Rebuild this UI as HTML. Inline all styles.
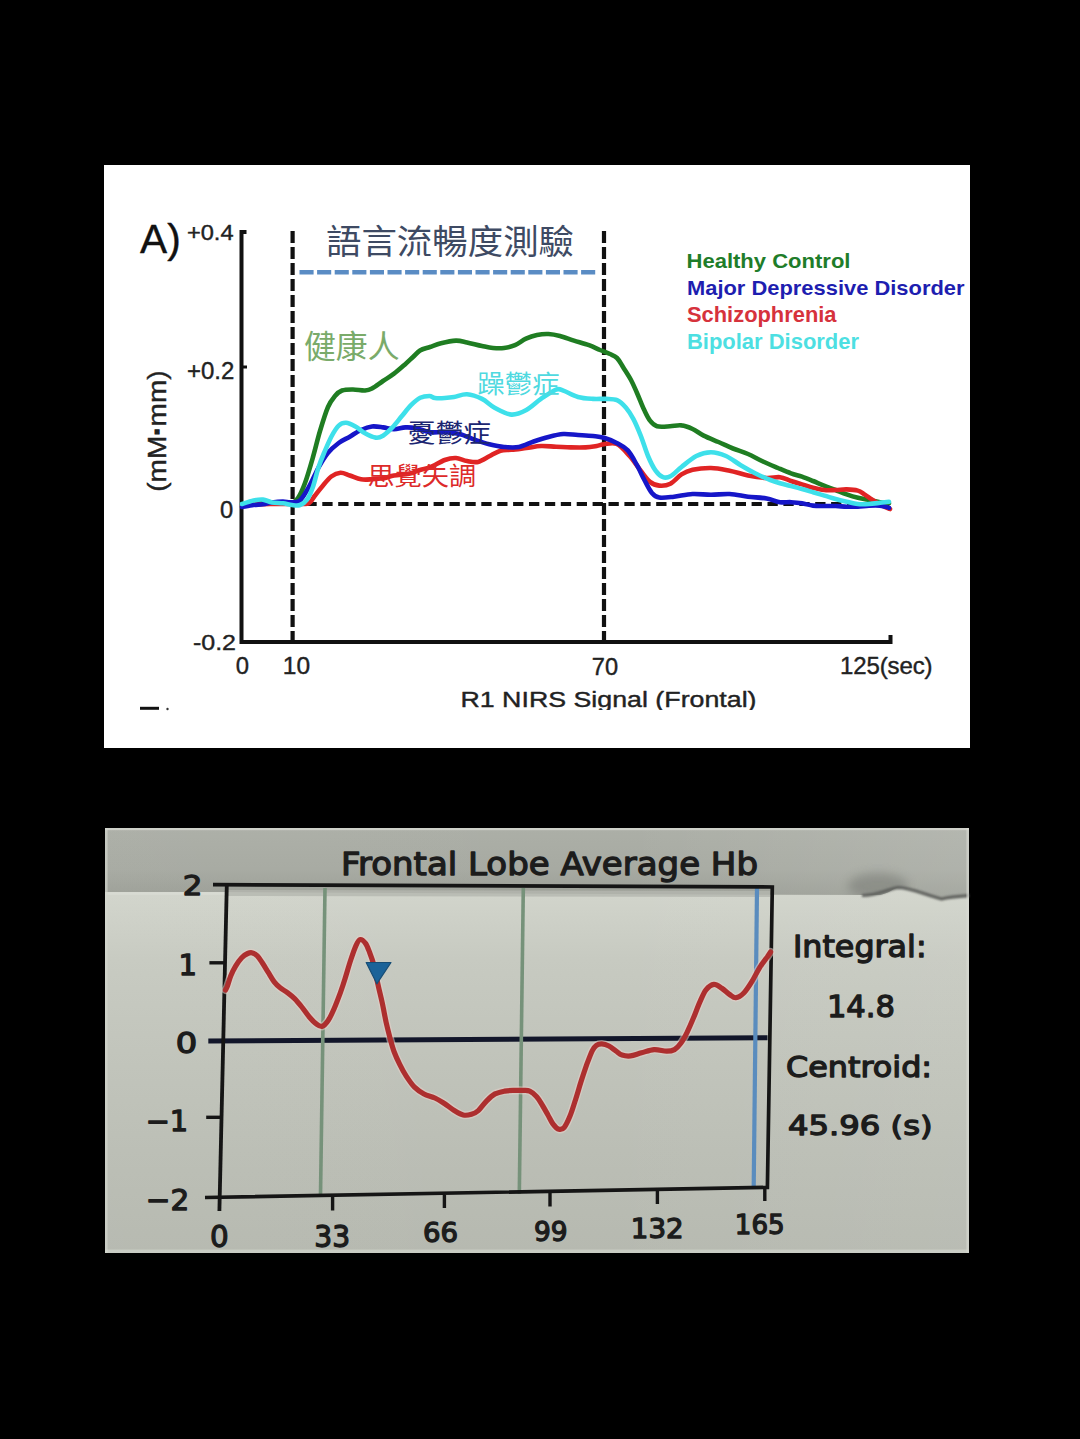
<!DOCTYPE html>
<html><head><meta charset="utf-8"><style>
html,body{margin:0;padding:0;background:#000;}
body{width:1080px;height:1439px;overflow:hidden;}
svg{display:block;}
</style></head><body>
<svg width="1080" height="1439" viewBox="0 0 1080 1439">
<rect width="1080" height="1439" fill="#000"/>

<rect x="104" y="165" width="866" height="583" fill="#fff"/>
<text x="140.00" y="252.96" font-family="&quot;Liberation Sans&quot;, Arial, sans-serif" font-weight="400" font-size="40.21" fill="#111" stroke="#111" stroke-width="0.4" stroke-linejoin="round" textLength="40.69" lengthAdjust="spacingAndGlyphs">A)</text>
<text x="186.98" y="240.00" font-family="&quot;Liberation Sans&quot;, Arial, sans-serif" font-weight="400" font-size="21.76" fill="#222" stroke="#222" stroke-width="0.4" stroke-linejoin="round" textLength="46.57" lengthAdjust="spacingAndGlyphs">+0.4</text>
<text x="186.97" y="379.04" font-family="&quot;Liberation Sans&quot;, Arial, sans-serif" font-weight="400" font-size="23.73" fill="#222" stroke="#222" stroke-width="0.4" stroke-linejoin="round" textLength="47.34" lengthAdjust="spacingAndGlyphs">+0.2</text>
<text x="219.93" y="518.00" font-family="&quot;Liberation Sans&quot;, Arial, sans-serif" font-weight="400" font-size="23.12" fill="#222" stroke="#222" stroke-width="0.4" stroke-linejoin="round" textLength="13.18" lengthAdjust="spacingAndGlyphs">0</text>
<text x="192.95" y="650.00" font-family="&quot;Liberation Sans&quot;, Arial, sans-serif" font-weight="400" font-size="22.88" fill="#222" stroke="#222" stroke-width="0.4" stroke-linejoin="round" textLength="43.10" lengthAdjust="spacingAndGlyphs">-0.2</text>
<text x="235.84" y="674.00" font-family="&quot;Liberation Sans&quot;, Arial, sans-serif" font-weight="400" font-size="24.69" fill="#222" stroke="#222" stroke-width="0.4" stroke-linejoin="round" textLength="13.27" lengthAdjust="spacingAndGlyphs">0</text>
<text x="282.85" y="674.00" font-family="&quot;Liberation Sans&quot;, Arial, sans-serif" font-weight="400" font-size="24.69" fill="#222" stroke="#222" stroke-width="0.4" stroke-linejoin="round" textLength="27.27" lengthAdjust="spacingAndGlyphs">10</text>
<text x="591.81" y="674.50" font-family="&quot;Liberation Sans&quot;, Arial, sans-serif" font-weight="400" font-size="24.39" fill="#222" stroke="#222" stroke-width="0.4" stroke-linejoin="round" textLength="26.29" lengthAdjust="spacingAndGlyphs">70</text>
<text x="839.93" y="674.00" font-family="&quot;Liberation Sans&quot;, Arial, sans-serif" font-weight="400" font-size="24.00" fill="#222" stroke="#222" stroke-width="0.4" stroke-linejoin="round" textLength="92.63" lengthAdjust="spacing">125(sec)</text>
<clipPath id="cb"><rect x="104" y="680" width="866" height="30"/></clipPath>
<text clip-path="url(#cb)" x="460.46" y="706.70" font-family="&quot;Liberation Sans&quot;, Arial, sans-serif" font-weight="400" font-size="22.50" fill="#222" stroke="#222" stroke-width="0.4" stroke-linejoin="round" textLength="296.07" lengthAdjust="spacingAndGlyphs">R1 NIRS Signal (Frontal)</text>
<text transform="translate(165.8,491.8) rotate(-90)" x="0" y="0" font-family="&quot;Liberation Sans&quot;, Arial, sans-serif" font-size="26" fill="#222" textLength="121.5" lengthAdjust="spacingAndGlyphs" stroke="#222" stroke-width="0.4">(mM<tspan font-weight="bold" stroke-width="1.2">·</tspan>mm)</text>
<line x1="140" y1="708.3" x2="159" y2="708.3" stroke="#111" stroke-width="3"/>
<circle cx="167.5" cy="709" r="1.2" fill="#333"/>
<path d="M246.5,232 L241.5,232 L241.5,642 L890.5,642 L890.5,635" fill="none" stroke="#111" stroke-width="4"/>
<line x1="241" y1="367" x2="247" y2="367" stroke="#111" stroke-width="3"/>
<line x1="292.6" y1="231" x2="292.6" y2="642" stroke="#111" stroke-width="4.2" stroke-dasharray="12 4" stroke-dashoffset="0"/>
<line x1="604" y1="231" x2="604" y2="642" stroke="#111" stroke-width="4.2" stroke-dasharray="12 4" stroke-dashoffset="0"/>
<line x1="306.4" y1="504" x2="890" y2="504" stroke="#111" stroke-width="4.2" stroke-dasharray="10.3 5.6" stroke-dashoffset="0"/>
<line x1="299.5" y1="272.3" x2="597" y2="272.3" stroke="#5a8cc4" stroke-width="4.4" stroke-dasharray="14.1 3.5" stroke-dashoffset="0"/>
<text x="325.98" y="254.03" font-family="&quot;Liberation Sans&quot;, &quot;Noto Sans CJK TC&quot;, sans-serif" font-weight="400" font-size="33.91" fill="#3e4a63" textLength="248.05" lengthAdjust="spacingAndGlyphs">語言流暢度測驗</text>
<text x="686.47" y="267.59" font-family="&quot;Liberation Sans&quot;, Arial, sans-serif" font-weight="700" font-size="20.35" fill="#1f7d2a" textLength="164.04" lengthAdjust="spacingAndGlyphs">Healthy Control</text>
<text x="686.99" y="294.57" font-family="&quot;Liberation Sans&quot;, Arial, sans-serif" font-weight="700" font-size="20.97" fill="#1e1eb0" textLength="277.51" lengthAdjust="spacingAndGlyphs">Major Depressive Disorder</text>
<text x="687.00" y="321.95" font-family="&quot;Liberation Sans&quot;, Arial, sans-serif" font-weight="700" font-size="21.83" fill="#d6323c" textLength="149.51" lengthAdjust="spacingAndGlyphs">Schizophrenia</text>
<text x="686.99" y="348.52" font-family="&quot;Liberation Sans&quot;, Arial, sans-serif" font-weight="700" font-size="21.17" fill="#4ddfe2" textLength="172.02" lengthAdjust="spacingAndGlyphs">Bipolar Disorder</text>
<g fill="none" stroke-width="4.6" stroke-linejoin="round" stroke-linecap="round">
<path d="M242.0,504.0 C245.0,503.8 253.7,502.7 260.0,502.5 C266.3,502.3 274.7,502.9 280.0,503.0 C285.3,503.1 289.0,503.8 292.0,503.0 C295.0,502.2 295.8,501.3 298.0,498.0 C300.2,494.7 302.5,489.8 305.0,483.0 C307.5,476.2 310.5,465.7 313.0,457.0 C315.5,448.3 317.5,439.3 320.0,431.0 C322.5,422.7 325.5,412.8 328.0,407.0 C330.5,401.2 332.7,398.8 335.0,396.0 C337.3,393.2 339.0,391.6 342.0,390.5 C345.0,389.4 349.2,389.5 353.0,389.5 C356.8,389.5 361.8,390.7 365.0,390.5 C368.2,390.3 369.0,390.1 372.0,388.5 C375.0,386.9 379.3,383.5 383.0,381.0 C386.7,378.5 390.3,376.5 394.0,373.7 C397.7,370.9 401.8,367.2 405.0,364.4 C408.2,361.6 410.5,359.3 413.0,357.0 C415.5,354.7 417.2,352.2 420.0,350.5 C422.8,348.8 426.5,348.2 430.0,347.0 C433.5,345.8 436.7,344.4 441.0,343.3 C445.3,342.2 451.7,340.8 456.0,340.6 C460.3,340.5 462.7,341.5 467.0,342.4 C471.3,343.3 477.7,345.1 482.0,346.0 C486.3,346.9 489.3,347.7 493.0,348.0 C496.7,348.3 500.3,348.5 504.0,348.0 C507.7,347.5 511.3,346.8 515.0,345.2 C518.7,343.6 522.3,340.4 526.0,338.7 C529.7,337.0 533.2,335.8 537.0,335.0 C540.8,334.2 544.7,333.8 548.5,334.0 C552.3,334.2 555.8,334.9 560.0,336.0 C564.2,337.1 569.2,339.1 574.0,340.6 C578.8,342.1 584.7,343.6 589.0,345.2 C593.3,346.8 596.5,348.5 600.0,350.0 C603.5,351.5 607.2,352.7 610.0,354.0 C612.8,355.3 614.8,355.8 617.0,358.0 C619.2,360.2 620.7,363.3 623.0,367.0 C625.3,370.7 628.7,375.7 631.0,380.0 C633.3,384.3 634.8,388.1 637.0,393.0 C639.2,397.9 641.8,405.0 644.0,409.6 C646.2,414.2 647.8,417.9 650.0,420.7 C652.2,423.5 653.7,425.4 657.0,426.3 C660.3,427.2 665.9,426.5 670.0,426.3 C674.1,426.1 677.7,424.9 681.5,425.4 C685.3,425.8 688.9,427.3 692.6,429.0 C696.3,430.7 699.4,433.4 703.7,435.6 C708.0,437.8 713.6,439.9 718.5,442.0 C723.4,444.1 728.1,446.5 733.0,448.5 C737.9,450.5 743.0,451.8 748.0,454.0 C753.0,456.2 758.0,459.2 763.0,461.5 C768.0,463.8 773.3,466.0 778.0,468.0 C782.7,470.0 787.0,471.9 791.0,473.3 C795.0,474.8 798.3,475.4 802.0,476.7 C805.7,478.0 809.3,479.5 813.0,481.0 C816.7,482.5 820.2,484.1 824.0,485.6 C827.8,487.1 831.8,488.5 835.6,490.0 C839.4,491.5 843.0,493.1 846.7,494.4 C850.4,495.7 854.3,496.9 858.0,497.8 C861.7,498.7 865.3,499.3 869.0,500.0 C872.7,500.7 876.7,501.6 880.0,502.2 C883.3,502.8 887.5,503.1 889.0,503.3" stroke="#1f7d22"/>
<path d="M242.0,505.0 C246.7,504.8 260.3,504.2 270.0,504.0 C279.7,503.8 293.5,504.1 300.0,504.0 C306.5,503.9 306.6,504.6 309.0,503.3 C311.4,502.0 312.4,498.8 314.6,496.0 C316.8,493.2 319.2,489.9 322.0,486.7 C324.8,483.4 328.2,478.8 331.3,476.5 C334.4,474.2 337.4,473.0 340.5,472.8 C343.6,472.6 346.4,474.4 349.8,475.5 C353.2,476.6 357.3,478.7 361.0,479.3 C364.7,479.9 368.3,479.5 372.0,479.3 C375.7,479.1 379.3,478.9 383.0,478.3 C386.7,477.7 389.7,476.3 394.0,475.5 C398.3,474.7 404.7,474.6 409.0,473.7 C413.3,472.8 416.5,471.1 420.0,470.0 C423.5,468.9 425.9,469.1 430.0,467.4 C434.1,465.7 440.5,461.6 444.8,460.0 C449.1,458.4 452.3,457.8 456.0,458.0 C459.7,458.2 463.3,460.4 467.0,461.0 C470.7,461.6 474.3,462.7 478.0,461.9 C481.7,461.1 485.6,458.2 489.3,456.3 C493.0,454.4 496.7,451.8 500.4,450.7 C504.1,449.6 507.2,450.2 511.5,449.8 C515.8,449.4 521.4,448.6 526.3,448.0 C531.2,447.4 536.0,446.2 541.0,446.0 C546.0,445.8 551.0,446.5 556.0,446.7 C561.0,446.9 565.8,447.3 570.7,447.4 C575.6,447.5 581.3,447.6 585.6,447.4 C589.9,447.2 593.6,446.5 596.7,446.0 C599.8,445.5 600.7,444.6 604.0,444.3 C607.3,444.0 612.4,442.1 616.7,444.0 C621.0,445.9 625.6,451.6 629.6,456.0 C633.6,460.4 637.3,466.4 640.7,470.7 C644.1,475.0 646.9,479.4 650.0,481.9 C653.1,484.4 655.9,485.3 659.3,485.6 C662.7,485.9 666.7,485.6 670.4,483.7 C674.1,481.8 677.8,476.7 681.5,474.4 C685.2,472.1 687.7,470.9 692.6,469.8 C697.5,468.7 704.8,467.9 711.0,468.0 C717.2,468.1 723.4,469.5 729.6,470.7 C735.8,471.9 741.8,474.2 748.0,475.4 C754.2,476.6 761.4,477.7 766.7,478.0 C772.0,478.3 776.0,476.7 780.0,477.2 C784.0,477.7 787.3,479.8 791.0,481.0 C794.7,482.2 798.3,483.3 802.0,484.4 C805.7,485.5 809.3,486.9 813.0,487.8 C816.7,488.7 820.6,489.6 824.4,490.0 C828.2,490.4 831.9,490.1 835.6,490.0 C839.3,489.9 843.0,489.3 846.7,489.4 C850.4,489.5 854.8,489.8 857.8,490.6 C860.8,491.4 862.2,493.0 864.4,494.4 C866.6,495.8 868.8,497.4 871.0,498.9 C873.2,500.4 875.6,502.0 877.8,503.3 C880.0,504.6 882.4,505.8 884.4,506.7 C886.4,507.6 889.1,508.6 890.0,509.0" stroke="#e02424"/>
<path d="M242.0,507.0 C243.9,506.7 250.0,505.4 253.5,505.0 C257.0,504.6 259.9,504.7 263.0,504.3 C266.1,503.9 268.7,502.9 272.0,502.4 C275.3,501.9 279.9,501.5 283.0,501.5 C286.1,501.5 287.7,502.6 290.5,502.4 C293.3,502.2 296.9,503.1 300.0,500.5 C303.1,497.9 305.9,492.1 309.0,486.7 C312.1,481.3 315.2,473.6 318.3,468.0 C321.4,462.4 324.2,457.5 327.6,453.3 C331.0,449.1 335.0,445.8 338.7,443.0 C342.4,440.2 346.1,438.9 349.8,436.7 C353.5,434.5 357.3,431.7 361.0,430.0 C364.7,428.3 368.3,426.9 372.0,426.5 C375.7,426.1 379.3,426.9 383.0,427.4 C386.7,427.9 390.3,429.3 394.0,429.3 C397.7,429.3 401.6,427.6 405.4,427.4 C409.1,427.2 412.4,427.5 416.5,428.3 C420.6,429.1 425.3,431.6 430.0,432.2 C434.7,432.8 439.9,431.9 444.8,432.2 C449.7,432.5 454.7,432.8 459.6,434.0 C464.5,435.2 469.4,437.9 474.4,439.6 C479.3,441.3 484.4,443.1 489.3,444.3 C494.2,445.5 499.1,446.6 504.0,447.0 C508.9,447.4 513.9,447.9 518.9,447.0 C523.9,446.1 528.8,443.2 533.7,441.5 C538.6,439.8 543.6,438.1 548.5,436.9 C553.4,435.6 558.4,434.3 563.3,434.0 C568.2,433.7 573.0,434.7 578.0,435.0 C583.0,435.3 588.7,435.5 593.0,436.0 C597.3,436.5 600.0,436.6 604.0,437.8 C608.0,439.0 612.7,440.9 616.7,443.0 C620.7,445.1 624.4,446.7 627.8,450.4 C631.2,454.1 634.2,460.3 637.0,465.2 C639.8,470.1 641.9,475.4 644.4,480.0 C646.9,484.6 649.4,490.1 651.9,493.0 C654.4,495.9 655.6,497.0 659.3,497.6 C663.0,498.2 668.5,497.3 674.0,496.7 C679.5,496.1 686.4,494.3 692.6,494.0 C698.8,493.7 704.8,494.8 711.0,494.8 C717.2,494.8 723.4,493.7 729.6,494.0 C735.8,494.3 741.8,495.9 748.0,496.7 C754.2,497.4 761.4,497.6 766.7,498.5 C772.0,499.4 776.0,501.6 780.0,502.2 C784.0,502.8 787.3,502.0 791.0,502.2 C794.7,502.4 798.3,502.7 802.0,503.3 C805.7,503.9 809.3,505.2 813.0,505.6 C816.7,506.1 820.6,505.9 824.4,506.0 C828.2,506.1 831.9,505.9 835.6,506.0 C839.3,506.1 843.0,506.6 846.7,506.7 C850.4,506.8 854.1,506.9 857.8,506.7 C861.5,506.5 865.2,505.8 868.9,505.6 C872.6,505.4 876.6,505.2 880.0,505.6 C883.4,506.0 887.5,507.4 889.0,507.8" stroke="#1616c8"/>
<path d="M242.0,504.0 C243.9,503.4 250.0,501.2 253.5,500.5 C257.0,499.8 259.9,499.3 263.0,499.6 C266.1,499.9 268.7,501.8 272.0,502.4 C275.3,503.0 279.7,502.9 283.0,503.3 C286.3,503.7 289.2,504.7 292.0,505.0 C294.8,505.3 297.5,505.9 300.0,505.0 C302.5,504.1 304.8,502.7 307.0,499.6 C309.2,496.6 311.1,492.0 313.0,486.7 C314.9,481.4 316.5,473.6 318.3,468.0 C320.1,462.4 321.8,458.2 324.0,453.0 C326.2,447.8 328.9,441.3 331.3,436.7 C333.8,432.1 336.2,427.9 338.7,425.6 C341.1,423.3 343.2,422.7 346.0,422.8 C348.8,422.9 352.3,424.8 355.4,426.5 C358.5,428.2 361.2,431.1 364.6,433.0 C368.0,434.9 372.6,437.2 375.7,437.6 C378.8,438.1 380.2,437.4 383.0,435.7 C385.8,434.0 389.3,430.6 392.4,427.4 C395.5,424.2 398.6,420.0 401.7,416.3 C404.8,412.6 407.9,408.3 411.0,405.2 C414.1,402.1 417.1,399.3 420.2,397.8 C423.3,396.3 426.9,396.0 429.4,396.0 C431.9,396.0 432.4,397.7 435.0,398.0 C437.6,398.3 441.6,398.2 444.8,398.0 C448.0,397.8 450.3,397.6 454.0,397.0 C457.7,396.4 462.3,394.0 467.0,394.3 C471.7,394.6 477.3,396.6 482.0,398.9 C486.7,401.2 490.1,405.4 495.0,408.0 C499.9,410.6 506.3,414.3 511.5,414.6 C516.7,414.9 521.4,412.6 526.3,410.0 C531.2,407.4 536.0,402.3 541.0,398.9 C546.0,395.5 552.3,391.0 556.0,389.6 C559.7,388.2 559.6,389.4 563.3,390.6 C567.0,391.8 573.0,395.6 578.0,397.0 C583.0,398.4 588.3,398.6 593.0,398.9 C597.7,399.2 602.0,398.7 606.0,398.9 C610.0,399.1 613.7,398.7 617.0,400.2 C620.3,401.7 623.3,404.7 626.0,407.8 C628.7,410.9 630.8,414.3 633.3,418.9 C635.8,423.5 638.2,429.4 640.7,435.6 C643.2,441.8 645.5,450.1 648.0,456.0 C650.5,461.9 653.1,467.2 655.6,470.7 C658.1,474.2 660.5,476.3 663.0,477.2 C665.5,478.1 667.3,478.0 670.4,476.3 C673.5,474.6 677.2,470.4 681.5,467.0 C685.8,463.6 691.4,458.5 696.3,456.0 C701.2,453.5 706.0,452.2 711.0,452.2 C716.0,452.2 721.0,453.8 726.0,456.0 C731.0,458.2 735.8,462.3 740.7,465.2 C745.6,468.1 750.7,471.0 755.6,473.5 C760.5,476.0 766.3,478.4 770.4,480.0 C774.5,481.6 776.6,482.3 780.0,483.3 C783.4,484.3 787.3,485.1 791.0,486.0 C794.7,486.9 798.3,488.0 802.0,489.0 C805.7,490.0 809.3,491.1 813.0,492.2 C816.7,493.3 820.6,494.5 824.4,495.6 C828.2,496.7 831.9,498.0 835.6,499.0 C839.3,500.0 843.0,500.9 846.7,501.7 C850.4,502.5 854.1,503.6 857.8,504.0 C861.5,504.4 865.2,504.2 868.9,504.0 C872.6,503.8 876.6,503.2 880.0,502.8 C883.4,502.4 887.5,501.9 889.0,501.7" stroke="#3ee0ea"/>
</g>
<text x="303.95" y="357.94" font-family="&quot;Liberation Sans&quot;, &quot;Noto Sans CJK TC&quot;, sans-serif" font-weight="400" font-size="31.48" fill="#7aab6a" textLength="95.58" lengthAdjust="spacingAndGlyphs">健康人</text>
<text x="477.47" y="393.24" font-family="&quot;Liberation Sans&quot;, &quot;Noto Sans CJK TC&quot;, sans-serif" font-weight="400" font-size="25.46" fill="#4fd9e0" textLength="82.05" lengthAdjust="spacingAndGlyphs">躁鬱症</text>
<text x="407.97" y="442.19" font-family="&quot;Liberation Sans&quot;, &quot;Noto Sans CJK TC&quot;, sans-serif" font-weight="400" font-size="25.46" fill="#1c2672" textLength="83.08" lengthAdjust="spacingAndGlyphs">憂鬱症</text>
<text x="367.43" y="485.22" font-family="&quot;Liberation Sans&quot;, &quot;Noto Sans CJK TC&quot;, sans-serif" font-weight="400" font-size="24.92" fill="#dd2a2a" textLength="108.63" lengthAdjust="spacingAndGlyphs">思覺失調</text>


<defs>
<linearGradient id="lowg" gradientUnits="userSpaceOnUse" x1="0" y1="890" x2="0" y2="1253">
<stop offset="0" stop-color="rgb(210,213,204)"/>
<stop offset="0.19" stop-color="rgb(199,202,193)"/>
<stop offset="0.44" stop-color="rgb(193,196,187)"/>
<stop offset="0.72" stop-color="rgb(187,190,181)"/>
<stop offset="1" stop-color="rgb(182,185,176)"/>
</linearGradient>
<linearGradient id="topg" gradientUnits="userSpaceOnUse" x1="0" y1="828" x2="0" y2="896">
<stop offset="0" stop-color="rgb(172,175,167)"/>
<stop offset="0.6" stop-color="rgb(167,170,162)"/>
<stop offset="1" stop-color="rgb(156,159,151)"/>
</linearGradient>
<linearGradient id="toph" gradientUnits="userSpaceOnUse" x1="105" y1="0" x2="969" y2="0">
<stop offset="0" stop-color="#fff" stop-opacity="0.02"/>
<stop offset="0.6" stop-color="#fff" stop-opacity="0"/>
<stop offset="1" stop-color="#fff" stop-opacity="0.10"/>
</linearGradient>
<linearGradient id="lowh" gradientUnits="userSpaceOnUse" x1="105" y1="0" x2="969" y2="0">
<stop offset="0" stop-color="#fff" stop-opacity="0.02"/>
<stop offset="0.55" stop-color="#fff" stop-opacity="0"/>
<stop offset="1" stop-color="#fff" stop-opacity="0.05"/>
</linearGradient>
</defs>
<rect x="105" y="828" width="864" height="425" fill="url(#lowg)"/>
<rect x="105" y="828" width="864" height="425" fill="url(#lowh)"/>
<path id="topstrip" d="M105,828 L969,828 L969,895.6 L955,896.5 L941.5,899 C925,894 912,888 898.7,887.5 C893,888 890,893 880,895 L780,894.8 L225,892 L105,892 Z" fill="url(#topg)"/>
<path d="M105,828 L969,828 L969,895.6 L955,896.5 L941.5,899 C925,894 912,888 898.7,887.5 C893,888 890,893 880,895 L780,894.8 L225,892 L105,892 Z" fill="url(#toph)"/>
<filter id="bl" x="-50%" y="-50%" width="200%" height="200%"><feGaussianBlur stdDeviation="5"/></filter>
<filter id="bl2" x="-50%" y="-50%" width="200%" height="200%"><feGaussianBlur stdDeviation="1"/></filter>
<clipPath id="tsclip"><path d="M105,828 L969,828 L969,895.6 L955,896.5 L941.5,899 C925,894 912,888 898.7,887.5 C893,888 890,893 880,895 L780,894.8 L225,892 L105,892 Z"/></clipPath>
<g clip-path="url(#tsclip)">
<ellipse cx="878" cy="886" rx="30" ry="13" fill="rgb(120,122,116)" opacity="0.55" filter="url(#bl)"/>
</g>
<path d="M862,895.5 C880,895 888,888.5 898.7,887.5 C912,888 925,895 941.5,899 C947,897.5 955,896.5 969,895.6" fill="none" stroke="rgb(95,97,93)" stroke-width="3.2" filter="url(#bl2)"/>
<path d="M106,893.5 L225,893.5" stroke="rgb(216,219,211)" stroke-width="2.5"/>
<path d="M228,890 L770,891 L770,897 L228,896 Z" fill="rgb(180,183,175)" opacity="0.8"/>
<rect x="105" y="828" width="864" height="2.2" fill="rgb(212,214,207)" opacity="0.85"/>
<rect x="105" y="828" width="2.6" height="425" fill="rgb(214,216,209)" opacity="0.6"/>
<rect x="966.4" y="828" width="2.6" height="425" fill="rgb(218,220,214)" opacity="0.6"/>
<rect x="105" y="1249.5" width="864" height="3.5" fill="rgb(214,216,209)" opacity="0.6"/>
<line x1="208.3" y1="1041" x2="767.5" y2="1037.8" stroke="#12162a" stroke-width="5"/>
<line x1="325" y1="888" x2="320.5" y2="1196" stroke="#76927a" stroke-width="3.6"/>
<line x1="523.3" y1="888" x2="519.3" y2="1194" stroke="#76927a" stroke-width="3.6"/>
<line x1="757" y1="888" x2="753.7" y2="1187" stroke="#5a8cbe" stroke-width="4.2"/>
<path d="M213,884.7 L772.3,887 L767.4,1187.4 L205,1197.5" fill="none" stroke="#151515" stroke-width="3.7"/>
<line x1="226.8" y1="885" x2="219.4" y2="1211" stroke="#151515" stroke-width="3.8"/>
<g stroke="#151515" stroke-width="3.4">
<line x1="209.4" y1="962.8" x2="224" y2="962.8"/>
<line x1="206.2" y1="1117.3" x2="221.8" y2="1117.3"/>
<line x1="332.6" y1="1196" x2="332.6" y2="1210.5"/>
<line x1="444.4" y1="1194.8" x2="444.4" y2="1208"/>
<line x1="550" y1="1193" x2="550" y2="1206.5"/>
<line x1="657.4" y1="1190.5" x2="657.4" y2="1204"/>
<line x1="764.8" y1="1187.5" x2="764.8" y2="1201"/>
</g>
<path d="M225.5,990.0 C225.8,989.4 226.3,989.0 227.2,986.6 C228.1,984.2 229.4,979.1 230.8,975.7 C232.2,972.3 233.8,969.1 235.6,966.1 C237.4,963.1 239.7,959.8 241.7,957.7 C243.7,955.6 245.9,954.3 247.7,953.5 C249.5,952.7 250.9,952.5 252.5,952.9 C254.1,953.3 255.7,954.3 257.3,955.9 C258.9,957.5 260.3,959.8 262.1,962.5 C263.9,965.2 266.1,968.9 268.1,972.1 C270.1,975.3 272.2,979.2 274.2,981.8 C276.2,984.4 278.0,986.0 280.2,987.8 C282.4,989.6 285.0,990.8 287.4,992.6 C289.8,994.4 292.2,996.2 294.6,998.6 C297.0,1001.0 299.4,1004.0 301.8,1007.0 C304.2,1010.0 306.7,1013.9 309.1,1016.7 C311.5,1019.5 314.1,1022.3 316.3,1023.9 C318.5,1025.5 320.3,1026.9 322.3,1026.3 C324.3,1025.7 326.3,1023.3 328.3,1020.3 C330.3,1017.3 332.3,1012.8 334.3,1008.2 C336.3,1003.6 338.5,997.7 340.4,992.6 C342.2,987.5 343.7,982.9 345.4,977.4 C347.1,971.9 349.0,965.2 350.8,959.8 C352.6,954.4 354.7,948.3 356.3,944.9 C357.9,941.5 358.7,939.7 360.3,939.5 C361.9,939.3 364.1,941.4 365.7,943.6 C367.3,945.9 368.4,949.4 369.8,953.0 C371.2,956.6 372.5,960.0 373.9,965.2 C375.2,970.4 376.5,978.1 377.9,984.2 C379.2,990.3 380.6,995.5 382.0,1001.8 C383.4,1008.1 384.8,1016.1 386.1,1022.2 C387.5,1028.3 388.8,1033.4 390.1,1038.4 C391.5,1043.4 392.6,1047.7 394.2,1052.0 C395.8,1056.3 397.6,1060.1 399.6,1064.2 C401.6,1068.3 403.9,1072.6 406.4,1076.4 C408.9,1080.2 411.6,1084.3 414.5,1087.2 C417.4,1090.1 420.6,1092.2 424.0,1094.0 C427.4,1095.8 431.5,1096.4 434.9,1098.0 C438.3,1099.6 441.2,1101.5 444.4,1103.5 C447.5,1105.5 450.6,1108.3 453.8,1110.2 C457.0,1112.1 460.4,1114.3 463.3,1115.0 C466.2,1115.7 469.0,1115.0 471.5,1114.3 C474.0,1113.6 475.8,1112.8 478.3,1110.6 C480.8,1108.3 483.9,1103.6 486.7,1100.8 C489.5,1098.0 492.0,1095.5 495.0,1093.9 C498.0,1092.3 501.5,1091.7 504.7,1091.1 C507.9,1090.5 511.4,1090.5 514.4,1090.4 C517.4,1090.3 520.2,1090.3 522.8,1090.4 C525.3,1090.5 527.4,1090.0 529.7,1091.1 C532.0,1092.1 534.6,1094.4 536.7,1096.7 C538.8,1099.0 540.4,1102.0 542.2,1105.0 C544.1,1108.0 545.9,1111.5 547.8,1114.7 C549.6,1117.9 551.4,1122.0 553.3,1124.4 C555.1,1126.8 557.0,1128.8 558.9,1129.3 C560.8,1129.8 562.5,1129.4 564.4,1127.2 C566.2,1125.0 568.1,1120.7 570.0,1116.1 C571.9,1111.5 573.8,1105.2 575.6,1099.4 C577.5,1093.6 579.2,1087.2 581.1,1081.4 C583.0,1075.6 584.9,1069.8 586.7,1064.7 C588.6,1059.6 590.6,1054.0 592.2,1050.8 C593.8,1047.6 594.8,1046.4 596.4,1045.3 C598.0,1044.2 599.8,1043.8 601.9,1043.9 C604.0,1044.0 606.6,1044.8 608.9,1046.0 C611.2,1047.2 613.6,1049.3 615.8,1050.8 C618.0,1052.3 619.5,1054.2 622.0,1055.0 C624.5,1055.8 627.2,1056.3 630.5,1055.9 C633.8,1055.5 637.6,1053.8 641.5,1052.8 C645.4,1051.8 649.9,1049.9 654.1,1049.6 C658.3,1049.3 663.3,1051.2 666.7,1051.2 C670.1,1051.2 672.1,1050.9 674.5,1049.6 C676.9,1048.3 678.7,1046.2 680.8,1043.3 C682.9,1040.4 685.0,1036.5 687.1,1032.3 C689.2,1028.1 691.3,1023.1 693.4,1018.1 C695.5,1013.1 697.6,1007.1 699.7,1002.4 C701.8,997.7 703.6,992.8 706.0,989.8 C708.4,986.8 711.3,984.6 713.9,984.3 C716.5,984.0 719.2,986.5 721.8,988.2 C724.4,989.9 727.2,992.9 729.6,994.5 C732.0,996.1 733.5,998.0 735.9,997.7 C738.3,997.5 741.2,995.6 743.8,993.0 C746.4,990.4 749.1,986.1 751.7,981.9 C754.3,977.7 756.9,972.0 759.5,967.8 C762.1,963.6 765.5,959.4 767.4,956.8 C769.2,954.2 770.1,952.8 770.6,952.0" fill="none" stroke="#e6cfc8" stroke-width="8" stroke-linejoin="round" stroke-linecap="round" opacity="0.55"/>
<path d="M225.5,990.0 C225.8,989.4 226.3,989.0 227.2,986.6 C228.1,984.2 229.4,979.1 230.8,975.7 C232.2,972.3 233.8,969.1 235.6,966.1 C237.4,963.1 239.7,959.8 241.7,957.7 C243.7,955.6 245.9,954.3 247.7,953.5 C249.5,952.7 250.9,952.5 252.5,952.9 C254.1,953.3 255.7,954.3 257.3,955.9 C258.9,957.5 260.3,959.8 262.1,962.5 C263.9,965.2 266.1,968.9 268.1,972.1 C270.1,975.3 272.2,979.2 274.2,981.8 C276.2,984.4 278.0,986.0 280.2,987.8 C282.4,989.6 285.0,990.8 287.4,992.6 C289.8,994.4 292.2,996.2 294.6,998.6 C297.0,1001.0 299.4,1004.0 301.8,1007.0 C304.2,1010.0 306.7,1013.9 309.1,1016.7 C311.5,1019.5 314.1,1022.3 316.3,1023.9 C318.5,1025.5 320.3,1026.9 322.3,1026.3 C324.3,1025.7 326.3,1023.3 328.3,1020.3 C330.3,1017.3 332.3,1012.8 334.3,1008.2 C336.3,1003.6 338.5,997.7 340.4,992.6 C342.2,987.5 343.7,982.9 345.4,977.4 C347.1,971.9 349.0,965.2 350.8,959.8 C352.6,954.4 354.7,948.3 356.3,944.9 C357.9,941.5 358.7,939.7 360.3,939.5 C361.9,939.3 364.1,941.4 365.7,943.6 C367.3,945.9 368.4,949.4 369.8,953.0 C371.2,956.6 372.5,960.0 373.9,965.2 C375.2,970.4 376.5,978.1 377.9,984.2 C379.2,990.3 380.6,995.5 382.0,1001.8 C383.4,1008.1 384.8,1016.1 386.1,1022.2 C387.5,1028.3 388.8,1033.4 390.1,1038.4 C391.5,1043.4 392.6,1047.7 394.2,1052.0 C395.8,1056.3 397.6,1060.1 399.6,1064.2 C401.6,1068.3 403.9,1072.6 406.4,1076.4 C408.9,1080.2 411.6,1084.3 414.5,1087.2 C417.4,1090.1 420.6,1092.2 424.0,1094.0 C427.4,1095.8 431.5,1096.4 434.9,1098.0 C438.3,1099.6 441.2,1101.5 444.4,1103.5 C447.5,1105.5 450.6,1108.3 453.8,1110.2 C457.0,1112.1 460.4,1114.3 463.3,1115.0 C466.2,1115.7 469.0,1115.0 471.5,1114.3 C474.0,1113.6 475.8,1112.8 478.3,1110.6 C480.8,1108.3 483.9,1103.6 486.7,1100.8 C489.5,1098.0 492.0,1095.5 495.0,1093.9 C498.0,1092.3 501.5,1091.7 504.7,1091.1 C507.9,1090.5 511.4,1090.5 514.4,1090.4 C517.4,1090.3 520.2,1090.3 522.8,1090.4 C525.3,1090.5 527.4,1090.0 529.7,1091.1 C532.0,1092.1 534.6,1094.4 536.7,1096.7 C538.8,1099.0 540.4,1102.0 542.2,1105.0 C544.1,1108.0 545.9,1111.5 547.8,1114.7 C549.6,1117.9 551.4,1122.0 553.3,1124.4 C555.1,1126.8 557.0,1128.8 558.9,1129.3 C560.8,1129.8 562.5,1129.4 564.4,1127.2 C566.2,1125.0 568.1,1120.7 570.0,1116.1 C571.9,1111.5 573.8,1105.2 575.6,1099.4 C577.5,1093.6 579.2,1087.2 581.1,1081.4 C583.0,1075.6 584.9,1069.8 586.7,1064.7 C588.6,1059.6 590.6,1054.0 592.2,1050.8 C593.8,1047.6 594.8,1046.4 596.4,1045.3 C598.0,1044.2 599.8,1043.8 601.9,1043.9 C604.0,1044.0 606.6,1044.8 608.9,1046.0 C611.2,1047.2 613.6,1049.3 615.8,1050.8 C618.0,1052.3 619.5,1054.2 622.0,1055.0 C624.5,1055.8 627.2,1056.3 630.5,1055.9 C633.8,1055.5 637.6,1053.8 641.5,1052.8 C645.4,1051.8 649.9,1049.9 654.1,1049.6 C658.3,1049.3 663.3,1051.2 666.7,1051.2 C670.1,1051.2 672.1,1050.9 674.5,1049.6 C676.9,1048.3 678.7,1046.2 680.8,1043.3 C682.9,1040.4 685.0,1036.5 687.1,1032.3 C689.2,1028.1 691.3,1023.1 693.4,1018.1 C695.5,1013.1 697.6,1007.1 699.7,1002.4 C701.8,997.7 703.6,992.8 706.0,989.8 C708.4,986.8 711.3,984.6 713.9,984.3 C716.5,984.0 719.2,986.5 721.8,988.2 C724.4,989.9 727.2,992.9 729.6,994.5 C732.0,996.1 733.5,998.0 735.9,997.7 C738.3,997.5 741.2,995.6 743.8,993.0 C746.4,990.4 749.1,986.1 751.7,981.9 C754.3,977.7 756.9,972.0 759.5,967.8 C762.1,963.6 765.5,959.4 767.4,956.8 C769.2,954.2 770.1,952.8 770.6,952.0" fill="none" stroke="#ad2f2f" stroke-width="5.2" stroke-linejoin="round" stroke-linecap="round"/>
<path d="M366.2,962.5 L391,962.5 L376.8,983.8 Z" fill="#1b6399" stroke="#174d75" stroke-width="1.2" stroke-linejoin="round"/>
<text x="340.98" y="875.00" font-family="&quot;DejaVu Sans&quot;, sans-serif" font-weight="400" font-size="32.00" fill="#1c1c1c" stroke="#1c1c1c" stroke-width="1.3" stroke-linejoin="round" textLength="417.03" lengthAdjust="spacingAndGlyphs">Frontal Lobe Average Hb</text>
<text x="182.77" y="895.06" font-family="&quot;DejaVu Sans&quot;, sans-serif" font-weight="400" font-size="27.32" fill="#1c1c1c" stroke="#1c1c1c" stroke-width="1.3" stroke-linejoin="round" textLength="19.69" lengthAdjust="spacingAndGlyphs">2</text>
<text x="178.48" y="974.52" font-family="&quot;DejaVu Sans&quot;, sans-serif" font-weight="400" font-size="28.50" fill="#1c1c1c" stroke="#1c1c1c" stroke-width="1.3" stroke-linejoin="round" textLength="18.49" lengthAdjust="spacingAndGlyphs">1</text>
<text x="175.78" y="1052.82" font-family="&quot;DejaVu Sans&quot;, sans-serif" font-weight="400" font-size="27.76" fill="#1c1c1c" stroke="#1c1c1c" stroke-width="1.3" stroke-linejoin="round" textLength="21.46" lengthAdjust="spacingAndGlyphs">0</text>
<text x="145.72" y="1131.02" font-family="&quot;DejaVu Sans&quot;, sans-serif" font-weight="400" font-size="28.50" fill="#1c1c1c" stroke="#1c1c1c" stroke-width="1.3" stroke-linejoin="round" textLength="42.49" lengthAdjust="spacingAndGlyphs">−1</text>
<text x="145.77" y="1210.00" font-family="&quot;DejaVu Sans&quot;, sans-serif" font-weight="400" font-size="29.00" fill="#1c1c1c" stroke="#1c1c1c" stroke-width="1.3" stroke-linejoin="round" textLength="43.46" lengthAdjust="spacingAndGlyphs">−2</text>
<text x="209.89" y="1247.42" font-family="&quot;DejaVu Sans&quot;, sans-serif" font-weight="400" font-size="30.77" fill="#1c1c1c" stroke="#1c1c1c" stroke-width="1.3" stroke-linejoin="round" textLength="18.71" lengthAdjust="spacingAndGlyphs">0</text>
<text x="314.36" y="1246.51" font-family="&quot;DejaVu Sans&quot;, sans-serif" font-weight="400" font-size="29.27" fill="#1c1c1c" stroke="#1c1c1c" stroke-width="1.3" stroke-linejoin="round" textLength="35.77" lengthAdjust="spacingAndGlyphs">33</text>
<text x="422.95" y="1242.10" font-family="&quot;DejaVu Sans&quot;, sans-serif" font-weight="400" font-size="26.12" fill="#1c1c1c" stroke="#1c1c1c" stroke-width="1.3" stroke-linejoin="round" textLength="35.08" lengthAdjust="spacingAndGlyphs">66</text>
<text x="533.94" y="1241.08" font-family="&quot;DejaVu Sans&quot;, sans-serif" font-weight="400" font-size="26.81" fill="#1c1c1c" stroke="#1c1c1c" stroke-width="1.3" stroke-linejoin="round" textLength="33.61" lengthAdjust="spacingAndGlyphs">99</text>
<text x="630.80" y="1238.09" font-family="&quot;DejaVu Sans&quot;, sans-serif" font-weight="400" font-size="26.31" fill="#1c1c1c" stroke="#1c1c1c" stroke-width="1.3" stroke-linejoin="round" textLength="52.81" lengthAdjust="spacingAndGlyphs">132</text>
<text x="734.85" y="1234.15" font-family="&quot;DejaVu Sans&quot;, sans-serif" font-weight="400" font-size="25.78" fill="#1c1c1c" stroke="#1c1c1c" stroke-width="1.3" stroke-linejoin="round" textLength="49.75" lengthAdjust="spacingAndGlyphs">165</text>
<text x="792.92" y="957.37" font-family="&quot;DejaVu Sans&quot;, sans-serif" font-weight="400" font-size="29.97" fill="#1c1c1c" stroke="#1c1c1c" stroke-width="1.3" stroke-linejoin="round" textLength="133.68" lengthAdjust="spacingAndGlyphs">Integral:</text>
<text x="826.89" y="1017.02" font-family="&quot;DejaVu Sans&quot;, sans-serif" font-weight="400" font-size="31.01" fill="#1c1c1c" stroke="#1c1c1c" stroke-width="1.3" stroke-linejoin="round" textLength="68.17" lengthAdjust="spacingAndGlyphs">14.8</text>
<text x="785.97" y="1076.61" font-family="&quot;DejaVu Sans&quot;, sans-serif" font-weight="400" font-size="28.63" fill="#1c1c1c" stroke="#1c1c1c" stroke-width="1.3" stroke-linejoin="round" textLength="146.12" lengthAdjust="spacingAndGlyphs">Centroid:</text>
<text x="787.99" y="1134.76" font-family="&quot;DejaVu Sans&quot;, sans-serif" font-weight="400" font-size="26.70" fill="#1c1c1c" stroke="#1c1c1c" stroke-width="1.3" stroke-linejoin="round" textLength="144.54" lengthAdjust="spacingAndGlyphs">45.96 (s)</text>

</svg>
</body></html>
